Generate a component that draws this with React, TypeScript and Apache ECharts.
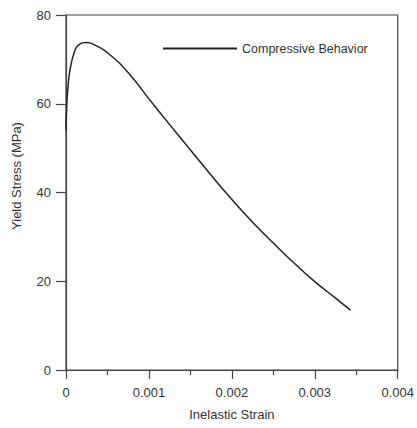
import React, { useEffect, useRef } from "react";
import * as echarts from "echarts";

const strain = [0, 0.00001, 0.00003, 0.00005, 0.0001, 0.00015, 0.00025, 0.00035, 0.0005, 0.00075, 0.001, 0.00125, 0.0015, 0.00175, 0.002, 0.00225, 0.0025, 0.00275, 0.003, 0.00325, 0.00343];
const stress = [54, 60, 65, 67.8, 71.6, 73.2, 73.8, 73.2, 71.5, 67.0, 61.1, 55.3, 49.6, 43.9, 38.4, 33.3, 28.6, 24.1, 19.9, 16.2, 13.5];
const seriesName = "Compressive Behavior";
const xTitle = "Inelastic Strain";
const yTitle = "Yield Stress (MPa)";

export default function App() {
  const ref = useRef<HTMLDivElement>(null);
  useEffect(() => {
    if (!ref.current) return;
    const chart = echarts.init(ref.current, null, { renderer: "svg" });
    const font = "'Liberation Sans', Arial, sans-serif";
    const axisColor = "#444";
    chart.setOption({
      animation: false,
      backgroundColor: "#fff",
      grid: { left: 66, right: 18, top: 15, bottom: 58, show: true, borderColor: axisColor, borderWidth: 1.2, backgroundColor: "transparent" },
      legend: {
        left: 158, top: 37, itemWidth: 74, itemHeight: 2, icon: "rect", itemGap: 5,
        textStyle: { fontFamily: font, fontSize: 12.5, color: "#333" },
        data: [seriesName],
      },
      graphic: [
        {
          type: "text", x: 16, y: 176, rotation: Math.PI / 2,
          style: { text: yTitle, fontFamily: font, fontSize: 13, fill: "#333", align: "center", verticalAlign: "middle" },
        },
      ],
      xAxis: {
        type: "value", min: 0, max: 0.004, interval: 0.001,
        name: xTitle, nameLocation: "middle", nameGap: 38,
        nameTextStyle: { fontFamily: font, fontSize: 13, color: "#333" },
        axisLine: { show: true, lineStyle: { color: axisColor, width: 1.2 } },
        axisTick: { show: true, length: 9, lineStyle: { color: axisColor, width: 1.2 } },
        minorTick: { show: true, splitNumber: 2, length: 5, lineStyle: { color: axisColor, width: 1.2 } },
        splitLine: { show: false },
        axisLabel: { fontFamily: font, fontSize: 13, color: "#333", margin: 16, formatter: (v: number) => (v === 0 ? "0" : String(+v.toFixed(3))) },
      },
      yAxis: {
        type: "value", min: 0, max: 80, interval: 20,
        axisLine: { show: true, lineStyle: { color: axisColor, width: 1.2 } },
        axisTick: { show: true, length: 10, lineStyle: { color: axisColor, width: 1.2 } },
        splitLine: { show: false },
        axisLabel: { fontFamily: font, fontSize: 13, color: "#333", margin: 15 },
      },
      series: [
        {
          name: seriesName, type: "line", smooth: 0.5, showSymbol: false, symbol: "none",
          data: strain.map((s, i) => [s, stress[i]]),
          lineStyle: { color: "#222", width: 1.5 },
          itemStyle: { color: "#222" },
        },
      ],
    });
    return () => chart.dispose();
  }, []);
  return <div ref={ref} style={{ width: 417, height: 428, position: "absolute", left: 0, top: 0 }} />;
}
